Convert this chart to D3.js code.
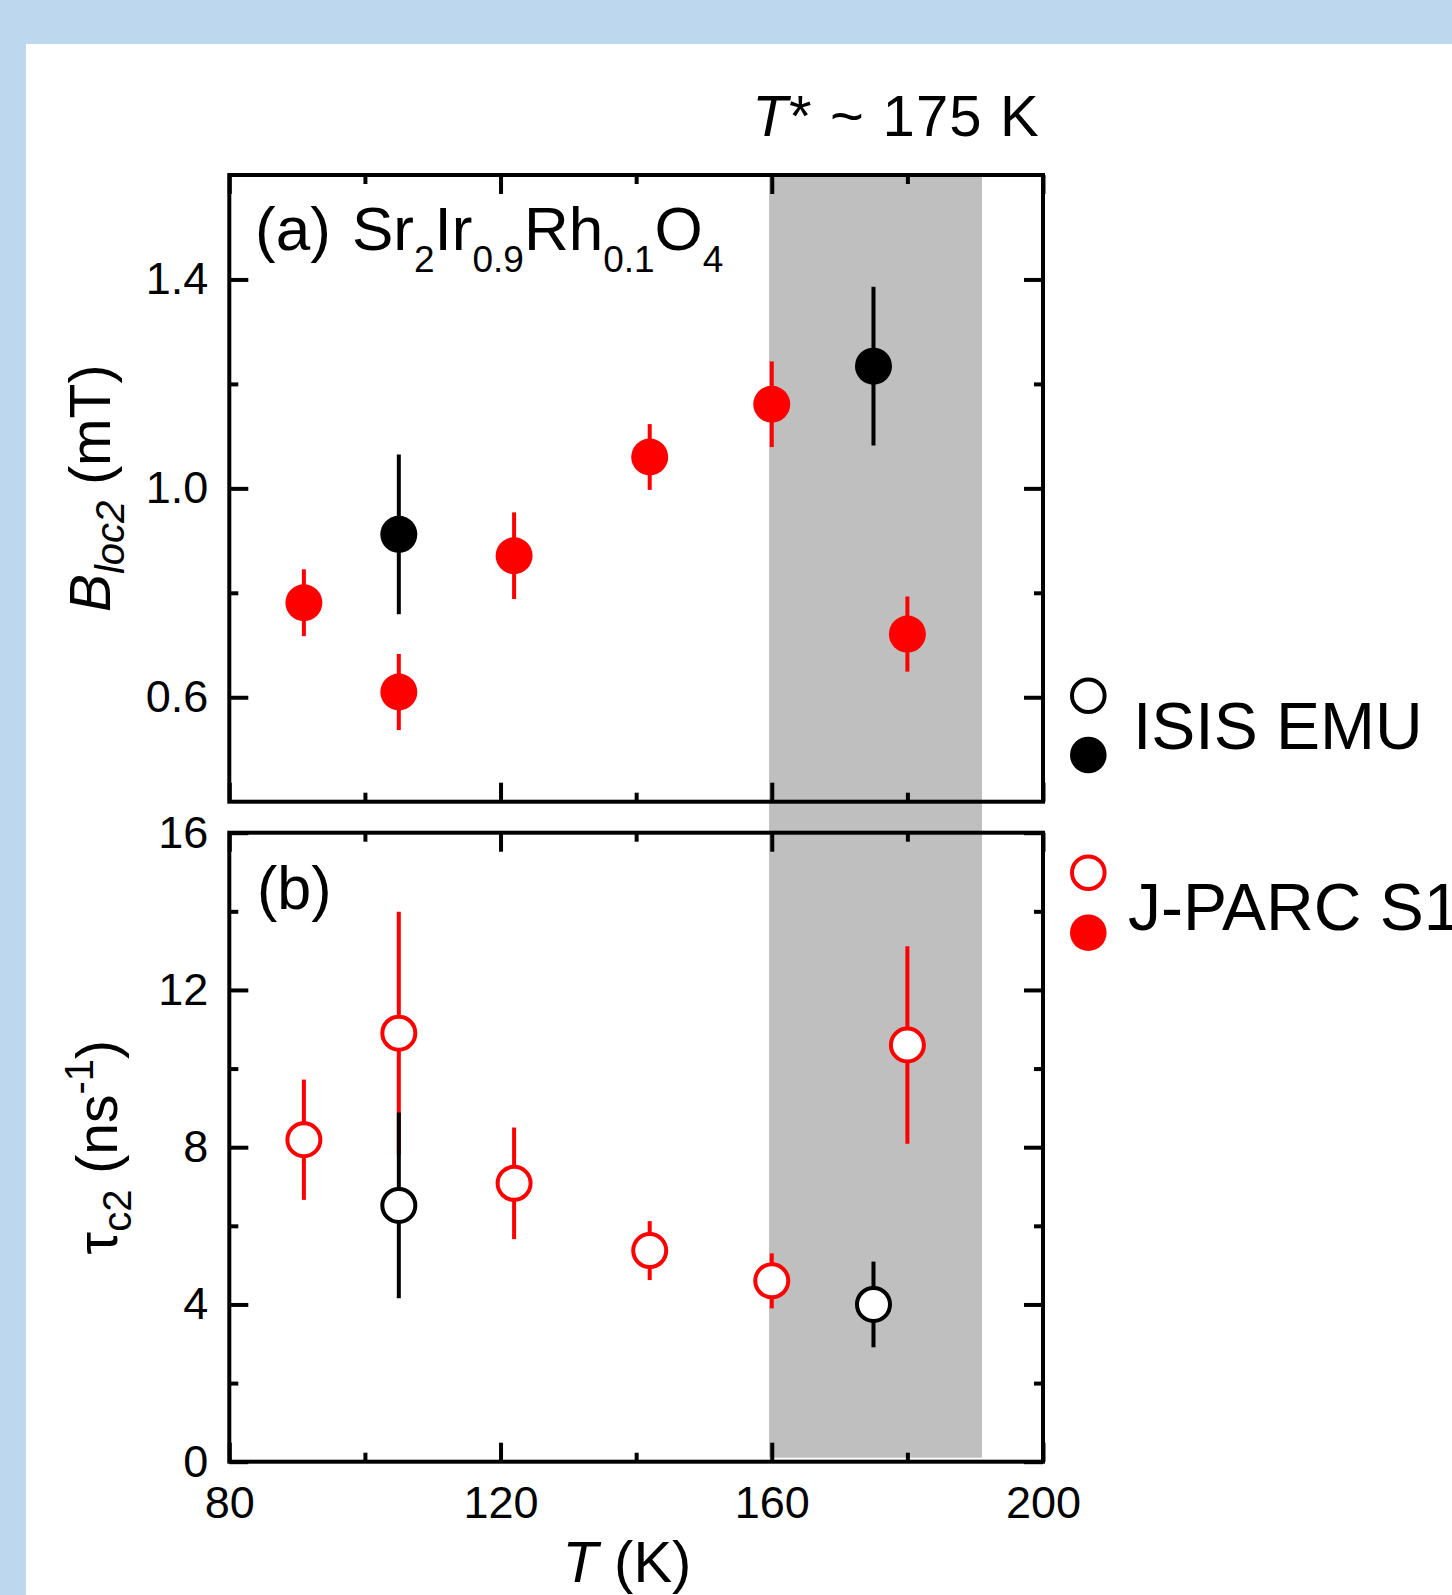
<!DOCTYPE html>
<html>
<head>
<meta charset="utf-8">
<script src="https://cdn.jsdelivr.net/npm/d3@7"></script>
<style>
  html, body { margin: 0; padding: 0; background: #BDD7EE; }
  svg { display: block; }
  text { font-family: "Liberation Sans", Arial, sans-serif; fill: #000; }
</style>
</head>
<body>
<script>
// ---------- data ----------
const xMajorTicks = [80, 120, 160, 200];
const xMinorTicks = [100, 140, 180];
const bMajorTicks = [0.6, 1.0, 1.4];
const bMinorTicks = [0.8, 1.2];
const tauMajorTicks = [0, 4, 8, 12, 16];
const tauMinorTicks = [2, 6, 10, 14];

const shadeRange = [159.6, 191];

// J-PARC S1 (red)
const jparcT = [91, 105, 122, 142, 160, 180];
const jparcB = [0.781, 0.610, 0.871, 1.060, 1.161, 0.721];
const jparcBErr = [0.064, 0.073, 0.083, 0.063, 0.082, 0.072];
const jparcTau = [8.19, 10.90, 7.08, 5.37, 4.60, 10.60];
const jparcTauErr = [1.53, 3.09, 1.42, 0.75, 0.70, 2.51];

// ISIS EMU (black)
const isisT = [105, 175];
const isisB = [0.912, 1.234];
const isisBErr = [0.153, 0.152];
const isisTau = [6.52, 4.00];
const isisTauErr = [2.36, 1.09];

const legendNames = ["ISIS EMU", "J-PARC S1"];
const legendColors = ["#000000", "#ff0000"];

// ---------- layout ----------
const W = 1452, H = 1595;
const L = 229.3, R = 1043;
const topT = 175, topB = 801.7;
const botT = 832.7, botB = 1461.7;

const svg = d3.select("body").append("svg").attr("width", W).attr("height", H);
svg.append("rect").attr("x", 0).attr("y", 0).attr("width", W).attr("height", H).attr("fill", "#BDD7EE");
svg.append("rect").attr("x", 26).attr("y", 44).attr("width", W - 26).attr("height", H - 44).attr("fill", "#ffffff");

const x = d3.scaleLinear().domain([80, 200]).range([L, R]);
const yB = d3.scaleLinear().domain([0.4, 1.6]).range([topB, topT]);
const yTau = d3.scaleLinear().domain([0, 16]).range([botB, botT]);

// shaded region
svg.append("rect")
  .attr("x", x(shadeRange[0]))
  .attr("y", topT)
  .attr("width", x(shadeRange[1]) - x(shadeRange[0]))
  .attr("height", botB - 4 - topT)
  .attr("fill", "#bfbfbf");

function styleAxis(g) {
  g.select(".domain").remove();
  g.selectAll(".tick line").attr("stroke", "#000").attr("stroke-width", 4);
  g.selectAll(".tick text").attr("font-size", 45).attr("font-family", "Liberation Sans, Arial, sans-serif").attr("fill", "#000");
}

function drawAxes(y, yMaj, yMin, yTopPx, yBotPx, showX) {
  const fmt = d3.format(yMaj[yMaj.length-1] > 2 ? "d" : ".1f");
  // left
  svg.append("g").attr("transform", `translate(${L},0)`)
    .call(d3.axisLeft(y).tickValues(yMaj).tickSize(-19).tickPadding(21).tickFormat(fmt)).call(styleAxis);
  svg.append("g").attr("transform", `translate(${L},0)`)
    .call(d3.axisLeft(y).tickValues(yMin).tickSize(-9).tickFormat("")).call(styleAxis);
  // right
  svg.append("g").attr("transform", `translate(${R},0)`)
    .call(d3.axisRight(y).tickValues(yMaj).tickSize(-19).tickFormat("")).call(styleAxis);
  svg.append("g").attr("transform", `translate(${R},0)`)
    .call(d3.axisRight(y).tickValues(yMin).tickSize(-9).tickFormat("")).call(styleAxis);
  // bottom
  svg.append("g").attr("transform", `translate(0,${yBotPx})`)
    .call(d3.axisBottom(x).tickValues(xMajorTicks).tickSize(-19).tickPadding(24)
      .tickFormat(showX ? d3.format("d") : "")).call(styleAxis);
  svg.append("g").attr("transform", `translate(0,${yBotPx})`)
    .call(d3.axisBottom(x).tickValues(xMinorTicks).tickSize(-9).tickFormat("")).call(styleAxis);
  // top
  svg.append("g").attr("transform", `translate(0,${yTopPx})`)
    .call(d3.axisTop(x).tickValues(xMajorTicks).tickSize(-19).tickFormat("")).call(styleAxis);
  svg.append("g").attr("transform", `translate(0,${yTopPx})`)
    .call(d3.axisTop(x).tickValues(xMinorTicks).tickSize(-9).tickFormat("")).call(styleAxis);
  // frame
  svg.append("rect").attr("x", L).attr("y", yTopPx).attr("width", R - L).attr("height", yBotPx - yTopPx)
    .attr("fill", "none").attr("stroke", "#000").attr("stroke-width", 4);
}

function drawSeries(T, V, E, y, color, filled) {
  const pts = T.map((t, i) => ({t, v: V[i], e: E[i]}));
  const g = svg.append("g");
  g.selectAll("line.err").data(pts).enter().append("line")
    .attr("x1", d => x(d.t)).attr("x2", d => x(d.t))
    .attr("y1", d => y(d.v - d.e)).attr("y2", d => y(d.v + d.e))
    .attr("stroke", color).attr("stroke-width", 4);
  g.selectAll("circle").data(pts).enter().append("circle")
    .attr("cx", d => x(d.t)).attr("cy", d => y(d.v))
    .attr("r", filled ? 18.5 : 16.5)
    .attr("fill", filled ? color : "#fff")
    .attr("stroke", filled ? "none" : color)
    .attr("stroke-width", filled ? 0 : 4);
}

// data (top: filled, bottom: open)
drawSeries(jparcT, jparcB, jparcBErr, yB, "#ff0000", true);
drawSeries(isisT, isisB, isisBErr, yB, "#000000", true);
drawSeries(jparcT, jparcTau, jparcTauErr, yTau, "#ff0000", false);
drawSeries(isisT, isisTau, isisTauErr, yTau, "#000000", false);

drawAxes(yB, bMajorTicks, bMinorTicks, topT, topB, false);
drawAxes(yTau, tauMajorTicks, tauMinorTicks, botT, botB, true);

// axis titles
const tB = svg.append("text").attr("transform", `translate(110,${(topT + topB) / 2}) rotate(-90)`)
  .attr("text-anchor", "middle").attr("font-size", 57);
tB.append("tspan").attr("font-style", "italic").text("B");
tB.append("tspan").attr("font-style", "italic").attr("font-size", 40).attr("dy", 14).text("loc2");
tB.append("tspan").attr("dy", -14).text(" (mT)");

const tT = svg.append("text").attr("transform", `translate(117,${(botT + botB) / 2}) rotate(-90)`)
  .attr("text-anchor", "middle").attr("font-size", 57);
tT.append("tspan").text("τ");
tT.append("tspan").attr("font-size", 40).attr("dy", 14).text("c2");
tT.append("tspan").attr("dy", -14).text(" (ns");
tT.append("tspan").attr("font-size", 40).attr("dy", -24).text("-1");
tT.append("tspan").attr("dy", 24).text(")");

const tx = svg.append("text").attr("x", 627).attr("y", 1582).attr("text-anchor", "middle").attr("font-size", 58);
tx.append("tspan").attr("font-style", "italic").text("T");
tx.append("tspan").text(" (K)");

// T* annotation
const ts = svg.append("text").attr("x", 1040).attr("y", 136).attr("text-anchor", "end")
  .attr("font-size", 58).attr("letter-spacing", 1.2);
ts.append("tspan").attr("font-style", "italic").text("T");
ts.append("tspan").text("* ~ 175 K");

// panel labels
svg.append("text").attr("x", 255).attr("y", 250).attr("font-size", 62).text("(a)");
const f = svg.append("text").attr("x", 352).attr("y", 250).attr("font-size", 62);
const parts = [["Sr",0],["2",1],["Ir",0],["0.9",1],["Rh",0],["0.1",1],["O",0],["4",1]];
let prev = 0;
parts.forEach(([s, sub]) => {
  const shift = sub ? 22 : 0;
  f.append("tspan").attr("font-size", sub ? 37 : 62).attr("dy", shift - prev).text(s);
  prev = shift;
});
svg.append("text").attr("x", 257).attr("y", 909).attr("font-size", 61).text("(b)");

// legend
const legY = [[695.7, 755, 749.3], [872.7, 932.7, 930]];
legendNames.forEach((name, i) => {
  const c = legendColors[i];
  svg.append("circle").attr("cx", 1088.3).attr("cy", legY[i][0]).attr("r", 16.3)
    .attr("fill", "#fff").attr("stroke", c).attr("stroke-width", 4);
  svg.append("circle").attr("cx", 1088.3).attr("cy", legY[i][1]).attr("r", 18.3).attr("fill", c);
  svg.append("text").attr("x", i === 0 ? 1133 : 1128).attr("y", legY[i][2]).attr("font-size", 66).text(name);
});
</script>
</body>
</html>
